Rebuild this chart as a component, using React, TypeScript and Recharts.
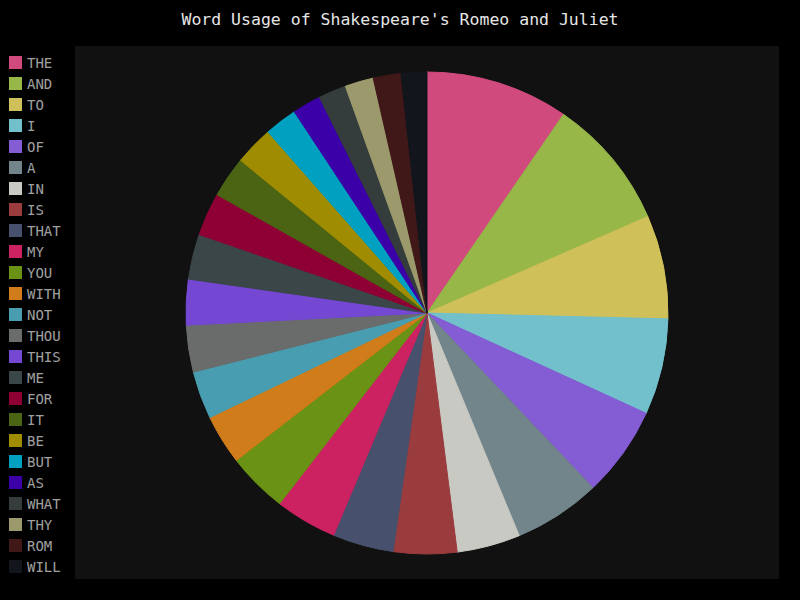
import { PieChart, Pie, Cell, Legend } from 'recharts';

const words = [
    'THE', 'AND', 'TO', 'I', 'OF', 'A', 'IN', 'IS', 'THAT', 'MY', 'YOU', 'WITH', 'NOT',
    'THOU', 'THIS', 'ME', 'FOR', 'IT', 'BE', 'BUT', 'AS', 'WHAT', 'THY', 'ROM', 'WILL',
];

const counts = [
    690, 638, 500, 464, 438, 420, 306, 306, 294, 298, 292, 240, 230,
    226, 220, 218, 208, 198, 188, 158, 138, 134, 138, 134, 124,
];

const colors = [
    '#d04a7e', '#97b848', '#d0c05a', '#72c0cc', '#845cd4', '#72858a', '#c9c9c3', '#9a3c3e',
    '#47506c', '#cc2262', '#6a9214', '#d07c1a', '#489eb0', '#6a6c6c', '#7448d2', '#3a4648',
    '#8e0034', '#4a6414', '#a08c00', '#00a0c0', '#3c00a8', '#343c3c', '#9c9a6c', '#401818',
    '#12161c',
];

const data = words.map((w, i) => ({ name: w, value: counts[i] }));

const font = '"DejaVu Sans Mono", monospace';

function WordLegend() {
    return (
        <svg width={80} height={600} style={{ display: 'block' }}>
            {words.map((w, i) => (
                <g key={w}>
                    <rect x={9} y={56 + i * 21} width={13} height={13} fill={colors[i]} />
                    <text x={27} y={68 + i * 21} fill="#a0a0a0" fontSize={14} fontFamily={font}>
                        {w}
                    </text>
                </g>
            ))}
        </svg>
    );
}

export default function App() {
    return (
        <div style={{ position: 'absolute', left: 0, top: 0, width: 800, height: 600, background: '#000' }}>
            <div style={{ position: 'absolute', left: 75, top: 46, width: 704, height: 533, background: '#111' }} />
            <div
                style={{
                    position: 'absolute', left: 0, top: 8, width: 800, textAlign: 'center',
                    color: '#e6e6e6', fontSize: 16.5, fontFamily: font, lineHeight: '24px',
                }}
            >
                Word Usage of Shakespeare's Romeo and Juliet
            </div>
            <PieChart
                width={800}
                height={600}
                margin={{ top: 0, right: 0, bottom: 0, left: 0 }}
                style={{ position: 'absolute', left: 0, top: 0 }}
            >
                <Legend
                    content={() => <WordLegend />}
                    wrapperStyle={{ position: 'absolute', left: 0, top: 0, width: 80, height: 600 }}
                />
                <Pie
                    data={data}
                    dataKey="value"
                    nameKey="name"
                    cx={427}
                    cy={313}
                    outerRadius={241}
                    startAngle={90}
                    endAngle={-270}
                    isAnimationActive={false}
                    stroke="none"
                >
                    {data.map((d, i) => (
                        <Cell key={d.name} fill={colors[i]} stroke={colors[i]} strokeWidth={1} />
                    ))}
                </Pie>
            </PieChart>
        </div>
    );
}
